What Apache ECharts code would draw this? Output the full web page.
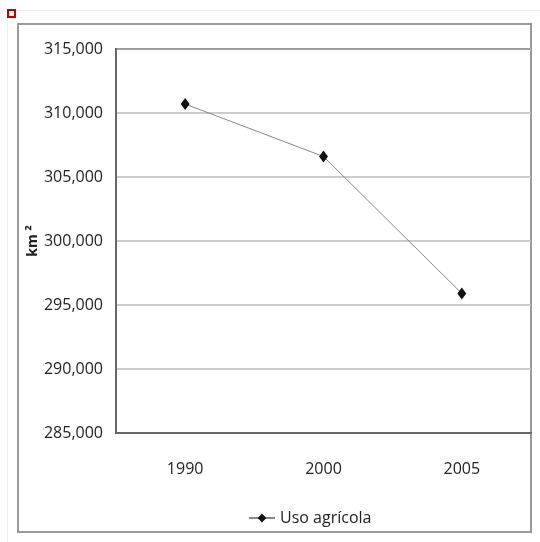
<!DOCTYPE html>
<html><head><meta charset="utf-8">
<script src="https://cdn.jsdelivr.net/npm/echarts@6/dist/echarts.min.js"></script>
<style>html,body{margin:0;padding:0;background:#fff}#c{width:540px;height:542px}</style>
</head><body><div id="c"></div>
<script>
var categories = ['1990', '2000', '2005'];
var seriesName = 'Uso agrícola';
var values = [310700, 306600, 295900];
var yMin = 285000, yMax = 315000, yStep = 5000;
var yName = 'km ²';

var chart = echarts.init(document.getElementById('c'), null, {renderer: 'canvas'});
var font = '"Open Sans", sans-serif';
chart.setOption({
  animation: false,
  backgroundColor: '#fff',
  graphic: [
    {type: 'line', shape: {x1: 17, y1: 10.5, x2: 540, y2: 10.5}, style: {stroke: '#eeeeee', lineWidth: 1}, silent: true},
    {type: 'line', shape: {x1: 7.5, y1: 18, x2: 7.5, y2: 542}, style: {stroke: '#eeeeee', lineWidth: 1}, silent: true},
    {type: 'rect', shape: {x: 8, y: 10, width: 7, height: 7}, style: {fill: '#fff', stroke: '#c00000', lineWidth: 2}, silent: true},
    {type: 'rect', shape: {x: 18, y: 24, width: 513, height: 508}, style: {fill: 'none', stroke: '#999', lineWidth: 2}, silent: true}
  ],
  grid: {left: 116, top: 49, right: 9, bottom: 109, show: true, borderColor: '#444', borderWidth: 2, backgroundColor: 'transparent'},
  legend: {
    bottom: 11, left: 243,
    data: [seriesName],
    itemWidth: 26, itemHeight: 11, itemGap: 4,
    textStyle: {fontFamily: font, fontSize: 16, color: '#222'}
  },
  xAxis: {
    type: 'category', data: categories, boundaryGap: true,
    axisLine: {show: true, lineStyle: {color: '#666', width: 2}},
    axisTick: {show: false},
    axisLabel: {fontFamily: font, fontSize: 16, color: '#222', margin: 28}
  },
  yAxis: {
    type: 'value', min: yMin, max: yMax, interval: yStep,
    name: yName, nameLocation: 'middle', nameRotate: 90, nameGap: 76, nameMoveOverlap: false,
    nameTextStyle: {fontFamily: font, fontSize: 14, fontWeight: 'bold', color: '#222'},
    axisLine: {show: true, lineStyle: {color: '#666', width: 2}},
    axisTick: {show: false},
    splitLine: {show: true, lineStyle: {color: '#bbb', width: 1.5}},
    axisLabel: {fontFamily: font, fontSize: 16, color: '#222', margin: 13,
      formatter: function (v) { return v.toLocaleString('en-US'); }}
  },
  series: [{
    name: seriesName, type: 'line', data: values,
    symbol: 'diamond', symbolSize: [9, 12],
    itemStyle: {color: '#111'},
    lineStyle: {color: '#888', width: 1}
  }]
});
</script></body></html>
